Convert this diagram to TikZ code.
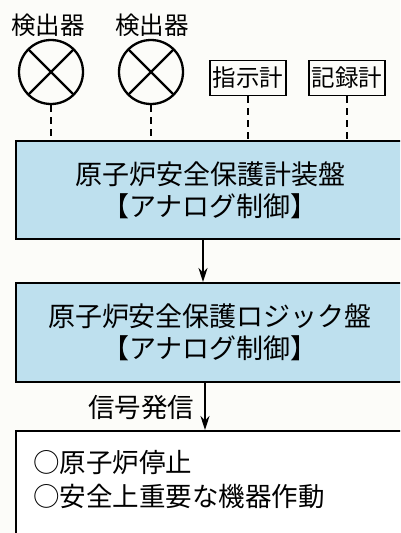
\documentclass[tikz,border=0pt]{standalone}
\usepackage{fontspec}
\setmainfont{Noto Sans CJK JP}
\usetikzlibrary{arrows.meta}
\definecolor{panel}{RGB}{190,224,238}
\definecolor{paper}{RGB}{252,252,249}
\begin{document}
\begin{tikzpicture}[x=1pt,y=-1pt,
 lbl/.style={font=\fontsize{24.5}{28}\selectfont, inner sep=0},
 det/.style={circle, draw, line width=2.3pt, minimum size=64pt, inner sep=0,
   path picture={\draw[line width=2.3pt] (path picture bounding box.north west) -- (path picture bounding box.south east)
     (path picture bounding box.north east) -- (path picture bounding box.south west);}},
 meter/.style={draw, line width=1.9pt, font=\fontsize{23.5}{26}\selectfont, inner sep=2.5pt, minimum height=35pt},
 dsh/.style={line width=2.2pt, dash pattern=on 7pt off 5pt},
 panelbox/.style={draw, line width=2pt, fill=panel, minimum width=388pt, align=center, font=\fontsize{27}{32}\selectfont},
 arr/.style={line width=2pt, -{Stealth[length=14pt,width=9pt]}}]
\useasboundingbox (0,0) rectangle (400,533);
\fill[paper] (0,0) rectangle (400,533);
\clip (0,0) rectangle (400,533);
\node[lbl] (l1) at (48,25) {検出器};
\node[lbl] (l2) at (152,25) {検出器};
\node[det] (d1) at (51,72) {};
\node[det] (d2) at (151,72) {};
\node[meter] (m1) at (248,78) {指示計};
\node[meter] (m2) at (347,78) {記録計};
\node[panelbox, minimum height=98pt] (p1) at (210,190) {原子炉安全保護計装盤\\【アナログ制御】};
\node[panelbox, minimum height=99pt] (p2) at (210,332.5) {原子炉安全保護ロジック盤\\【アナログ制御】};
\node[draw, line width=2pt, fill=white, minimum width=388pt, minimum height=118pt] (p3) at (210,490) {};
\node[anchor=west, align=left, inner sep=0, font=\fontsize{26.5}{34}\selectfont] (t3) at (33,480) {○原子炉停止\\○安全上重要な機器作動};
\draw[dsh] (d1.south) -- (d1.south |- p1.north);
\draw[dsh] (d2.south) -- (d2.south |- p1.north);
\draw[dsh] (m1.south) -- (m1.south |- p1.north);
\draw[dsh] (m2.south) -- (m2.south |- p1.north);
\draw[arr] ([xshift=-7pt]p1.south) -- ([xshift=-7pt]p2.north);
\draw[arr] ([xshift=-5pt]p2.south) -- ([xshift=-5pt]p3.north);
\node[font=\fontsize{26.5}{30}\selectfont, inner sep=0] (sig) at (141,408) {信号発信};
\end{tikzpicture}
\end{document}
